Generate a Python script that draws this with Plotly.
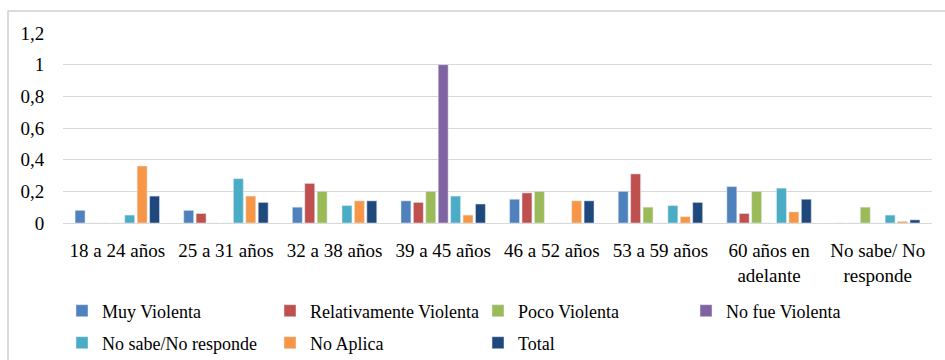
import plotly.graph_objects as go

# Age groups (x categories)
categories = [
    "18 a 24 años", "25 a 31 años", "32 a 38 años", "39 a 45 años",
    "46 a 52 años", "53 a 59 años", "60 años en<br>adelante", "No sabe/ No<br>responde",
]

# Series values per age group
muy_violenta = [0.08, 0.08, 0.10, 0.14, 0.15, 0.20, 0.23, 0.0]
relativamente_violenta = [0.0, 0.06, 0.25, 0.13, 0.19, 0.31, 0.06, 0.0]
poco_violenta = [0.0, 0.0, 0.20, 0.20, 0.20, 0.10, 0.20, 0.10]
no_fue_violenta = [0.0, 0.0, 0.0, 1.0, 0.0, 0.0, 0.0, 0.0]
no_sabe_no_responde = [0.05, 0.28, 0.11, 0.17, 0.0, 0.11, 0.22, 0.05]
no_aplica = [0.36, 0.17, 0.14, 0.05, 0.14, 0.04, 0.07, 0.01]
total = [0.17, 0.13, 0.14, 0.12, 0.14, 0.13, 0.15, 0.02]

# Y axis ticks (decimal comma comes from layout.separators)
y_tick_values = [0, 0.2, 0.4, 0.6, 0.8, 1.0, 1.2]

series_names = ["Muy Violenta", "Relativamente Violenta", "Poco Violenta", "No fue Violenta",
                "No sabe/No responde", "No Aplica", "Total"]
series_values = [muy_violenta, relativamente_violenta, poco_violenta, no_fue_violenta,
                 no_sabe_no_responde, no_aplica, total]
series_colors = ["#4F81BD", "#C0504D", "#9BBB59", "#8064A2", "#4BACC6", "#F79646", "#1F497D"]

SERIF = "Liberation Serif"
W, H = 945, 360
L, R, T, B = 63, 13, 33, 137
pw, ph = W - L - R, H - T - B

# legend grid: four columns, two rows (pixel anchors of each entry)
legend_cols = [62, 270, 478, 686]
legend_rows = [311, 343]

fig = go.Figure()
layout_legends = {}
for i, (name, values, color) in enumerate(zip(series_names, series_values, series_colors)):
    key = "legend" if i == 0 else f"legend{i + 1}"
    fig.add_trace(go.Bar(name=name, x=categories, y=values, legend=key, marker_color=color))
    layout_legends[key] = dict(
        x=(legend_cols[i % 4] - L) / pw, xanchor="left",
        y=(H - B - legend_rows[i // 4]) / ph, yanchor="middle",
        orientation="h", bgcolor="rgba(0,0,0,0)",
        font=dict(family=SERIF, size=18),
    )

fig.update_layout(
    width=W, height=H,
    margin=dict(l=L, r=R, t=T, b=B, autoexpand=False),
    paper_bgcolor="white", plot_bgcolor="white",
    separators=",.",
    font=dict(family=SERIF, size=19, color="black"),
    barmode="group", bargap=0.2, bargroupgap=0.2,
    showlegend=True,
    **layout_legends,
)
# white outside ticks keep the labels clear of the plot area
fig.update_xaxes(
    showgrid=False, showline=False, zeroline=False,
    ticks="outside", ticklen=10, tickcolor="white",
    tickfont=dict(family=SERIF, size=19), automargin=False,
)
fig.update_yaxes(
    range=[0, 1.2], tickvals=y_tick_values,
    showgrid=True, gridcolor="#D9D9D9", gridwidth=1,
    zeroline=True, zerolinecolor="#D9D9D9", zerolinewidth=1,
    showline=False, ticks="outside", ticklen=14, tickcolor="white",
    tickfont=dict(family=SERIF, size=19), automargin=False,
)
# light grey frame around the whole chart
fig.add_shape(
    type="rect", xref="paper", yref="paper",
    x0=(8 - L) / pw, x1=(960 - L) / pw, y0=(H - B - 11) / ph, y1=(H - B - 380) / ph,
    line=dict(color="#D0D0D0", width=1.5), fillcolor="rgba(0,0,0,0)",
    layer="below",
)

fig.write_html("out.html")
